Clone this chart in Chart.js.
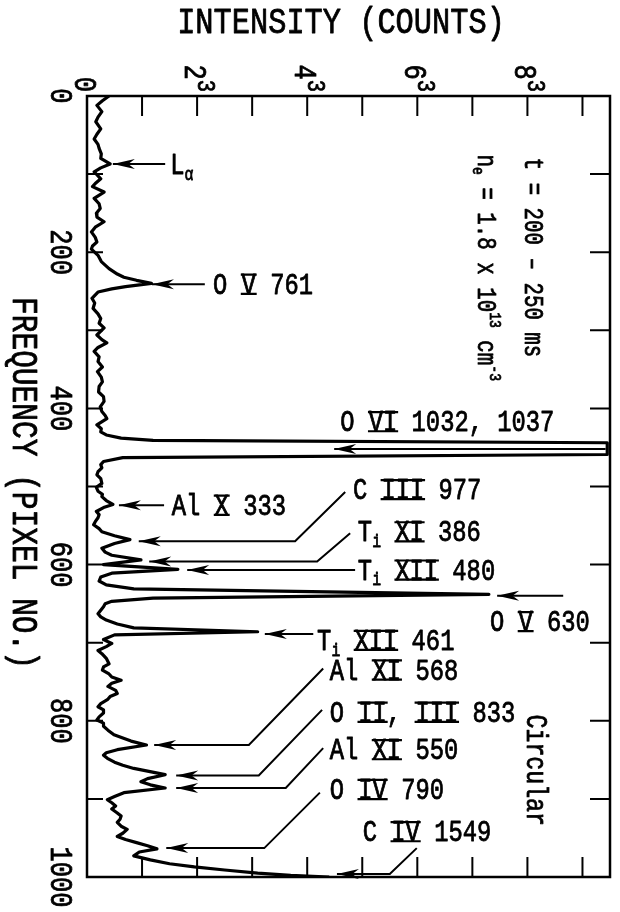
<!DOCTYPE html>
<html>
<head>
<meta charset="utf-8">
<script src="https://cdn.jsdelivr.net/npm/chart.js@4.4.0/dist/chart.umd.min.js"></script>
<style>
  html, body { margin: 0; background: #fff; }
  canvas { display: block; }
</style>
</head>
<body>
<canvas id="spectrum" width="620" height="912"></canvas>
<script>
// spectrum trace: frequency (pixel no.) vs cube root of counts
const pixelNo = [
  0, 6, 12, 20, 27, 33, 42, 49, 55, 62, 67, 74, 80, 87, 92, 97, 106, 112, 116, 123,
  131, 138, 144, 150, 155, 161, 168, 174, 181, 187, 192, 196, 204, 212, 221, 228, 232, 236, 240, 244,
  247, 251, 259, 265, 272, 279, 285, 291, 297, 306, 312, 316, 322, 327, 334, 340, 347, 353, 360, 366,
  372, 379, 385, 391, 398, 404, 409, 413, 421, 426, 430, 434, 438, 441, 444, 459, 463, 468, 472, 476,
  481, 485, 490, 496, 501, 506, 510, 513, 518, 523, 527, 532, 536, 540, 545, 549, 554, 558, 563, 568,
  573, 579, 584, 588, 594, 600, 606, 611, 616, 621, 626, 631, 638, 643, 647, 650, 654, 663, 667, 671,
  676, 681, 686, 690, 696, 701, 705, 710, 714, 720, 727, 731, 735, 740, 744, 748, 752, 756, 761, 765,
  769, 773, 778, 782, 786, 790, 795, 799, 803, 807, 812, 818, 826, 831, 837, 841, 844, 848, 853, 857,
  861, 869, 874, 878, 882, 886, 892, 897, 901, 905, 909, 913, 918, 922, 926, 930, 935, 939, 944, 948,
  952, 956, 960, 964, 968, 973, 978, 983, 987, 991, 995, 998, 1000
];
const cubeRootCounts = [
  0.40, 0.28, 0.18, 0.27, 0.20, 0.16, 0.25, 0.18, 0.13, 0.20, 0.22, 0.26, 0.25, 0.42, 0.25, 0.13, 0.25, 0.15, 0.10, 0.31,
  0.13, 0.22, 0.24, 0.17, 0.18, 0.31, 0.15, 0.08, 0.15, 0.18, 0.10, 0.08, 0.20, 0.26, 0.40, 0.55, 0.67, 0.90, 1.17, 0.70,
  0.45, 0.20, 0.09, 0.14, 0.11, 0.20, 0.25, 0.22, 0.31, 0.18, 0.27, 0.36, 0.20, 0.13, 0.22, 0.20, 0.28, 0.19, 0.26, 0.28,
  0.22, 0.21, 0.30, 0.31, 0.24, 0.27, 0.33, 0.36, 0.18, 0.26, 0.25, 0.35, 0.62, 1.20, 9.45, 9.45, 0.65, 0.30, 0.25, 0.27,
  0.20, 0.18, 0.25, 0.27, 0.17, 0.20, 0.28, 0.27, 0.35, 0.47, 0.30, 0.17, 0.22, 0.20, 0.15, 0.12, 0.22, 0.27, 0.50, 0.78,
  0.50, 0.27, 0.33, 0.45, 0.98, 0.30, 1.65, 0.45, 0.25, 0.22, 0.35, 0.85, 7.30, 1.20, 0.45, 0.33, 0.30, 0.20, 0.25, 0.35,
  0.55, 0.85, 3.10, 0.50, 0.30, 0.45, 0.35, 0.20, 0.27, 0.35, 0.40, 0.30, 0.28, 0.40, 0.45, 0.62, 0.45, 0.38, 0.52, 0.55,
  0.42, 0.37, 0.25, 0.20, 0.30, 0.30, 0.22, 0.18, 0.30, 0.30, 0.38, 0.49, 0.80, 1.08, 0.55, 0.35, 0.30, 0.37, 0.50, 0.65,
  0.85, 1.42, 1.10, 0.98, 1.15, 1.42, 0.67, 0.50, 0.37, 0.45, 0.52, 0.45, 0.55, 0.62, 0.60, 0.55, 0.62, 0.73, 0.65, 0.55,
  0.70, 0.90, 1.10, 1.27, 0.95, 0.85, 1.15, 1.50, 1.95, 2.50, 3.10, 3.70, 4.40
];

// axes
const intensityTicks = [1, 2, 3, 4, 5, 6, 7, 8, 9];
const intensityLabelAt = [0, 2, 4, 6, 8];
const intensityLabels = ['0', '2^{3}', '4^{3}', '6^{3}', '8^{3}'];
const pixelTicks = [100, 200, 300, 400, 500, 600, 700, 800, 900];
const pixelLabelAt = [0, 200, 400, 600, 800, 1000];
const pixelLabels = ['0', '200', '400', '600', '800', '1000'];

// line identifications: [ ] = barred roman numeral, ^{ } / _{ } = super/subscript
const lineNames = [
  'L_{α}', 'O [V] 761', 'O [VI] 1032, 1037', 'Al [X] 333', 'C [III] 977', 'T_{i} [XI] 386', 'T_{i} [XII] 480',
  'O [V] 630', 'T_{i} [XII] 461', 'Al [XI] 568', 'O [II], [III] 833', 'Al [XI] 550', 'O [IV] 790', 'C [IV] 1549'
];
// label anchor and leader path in data units [cube root counts, pixel no.]; last point = arrow tip
const lineNotes = [
  { at: [1.51, 88], path: [[1.42, 87], [0.47, 87]] },
  { at: [2.29, 241], path: [[2.14, 241], [1.18, 241]] },
  { at: [4.60, 417], path: [[9.42, 452], [4.49, 452]] },
  { at: [1.54, 524], path: [[1.40, 524], [0.58, 524]] },
  { at: [4.83, 504], path: [[4.69, 507], [3.78, 570], [0.94, 570]] },
  { at: [4.92, 558], path: [[4.78, 560], [4.18, 596], [1.13, 596]] },
  { at: [4.92, 607], path: [[4.87, 607], [1.82, 607]] },
  { at: [7.32, 673], path: [[8.65, 640], [7.45, 640]] },
  { at: [4.18, 697], path: [[4.11, 689], [3.23, 689]] },
  { at: [4.41, 735], path: [[4.29, 733], [2.94, 831], [1.22, 831]] },
  { at: [4.41, 789], path: [[4.27, 786], [3.12, 870], [1.62, 870]] },
  { at: [4.41, 837], path: [[4.29, 835], [3.61, 886], [1.62, 886]] },
  { at: [4.41, 888], path: [[4.23, 892], [3.22, 963], [1.44, 963]] },
  { at: [5.01, 942], path: [[5.99, 963], [5.50, 996], [4.54, 996]] }
];

const FONT = '"Liberation Mono", "DejaVu Sans Mono", monospace';

function parseRich(s) {
  const runs = [];
  let buf = '';
  const flush = () => { if (buf) runs.push({ t: buf, k: 'n' }); buf = ''; };
  for (let i = 0; i < s.length;) {
    const c = s[i];
    if (c === '[') {
      flush();
      const j = s.indexOf(']', i);
      runs.push({ t: s.slice(i + 1, j), k: 'bar' });
      i = j + 1;
    } else if ((c === '^' || c === '_') && s[i + 1] === '{') {
      flush();
      const j = s.indexOf('}', i);
      runs.push({ t: s.slice(i + 2, j), k: c === '^' ? 'sup' : 'sub' });
      i = j + 1;
    } else {
      buf += c;
      i++;
    }
  }
  flush();
  return runs;
}

// text with its cap centre on (x, y); rot in radians, sx = horizontal squeeze
function drawRich(ctx, s, x, y, o) {
  const size = o.size, sx = o.sx || 0.82, small = o.small || 0.62;
  const runs = parseRich(s);
  ctx.save();
  ctx.translate(x, y);
  if (o.rot) ctx.rotate(o.rot);
  ctx.scale(sx, 1);
  ctx.textAlign = 'left';
  ctx.textBaseline = 'alphabetic';
  ctx.fillStyle = '#000';
  ctx.strokeStyle = '#000';
  ctx.lineJoin = 'round';
  const fontOf = r => (r.k === 'sup' || r.k === 'sub' ? Math.round(size * small) : size) + 'px ' + FONT;
  let total = 0;
  runs.forEach(r => { ctx.font = fontOf(r); r.w = ctx.measureText(r.t).width; total += r.w; });
  let cx = o.align === 'right' ? -total : o.align === 'center' ? -total / 2 : 0;
  const base = size * 0.33;
  runs.forEach(r => {
    ctx.font = fontOf(r);
    let dy = base;
    if (r.k === 'sup') dy = base - size * 0.42;
    if (r.k === 'sub') dy = base + size * 0.2;
    ctx.fillText(r.t, cx, dy);
    ctx.lineWidth = 0.8;           // a little heavier, like stencil lettering
    ctx.strokeText(r.t, cx, dy);
    if (r.k === 'bar') {
      const top = base - size * 0.66;
      ctx.lineWidth = 2.2;
      ctx.beginPath();
      ctx.moveTo(cx - 1, top); ctx.lineTo(cx + r.w + 1, top);
      ctx.moveTo(cx - 1, base); ctx.lineTo(cx + r.w + 1, base);
      ctx.stroke();
    }
    cx += r.w;
  });
  ctx.restore();
}

function drawArrow(ctx, pts) {
  ctx.beginPath();
  ctx.moveTo(pts[0][0], pts[0][1]);
  for (let i = 1; i < pts.length; i++) ctx.lineTo(pts[i][0], pts[i][1]);
  ctx.stroke();
  const [x1, y1] = pts[pts.length - 2];
  const [x2, y2] = pts[pts.length - 1];
  const a = Math.atan2(y2 - y1, x2 - x1), c = Math.cos(a), s = Math.sin(a);
  const L = 22, W = 5;
  ctx.beginPath();
  ctx.moveTo(x2, y2);
  ctx.lineTo(x2 - L * c - W * s, y2 - L * s + W * c);
  ctx.lineTo(x2 - L * 0.7 * c, y2 - L * 0.7 * s);
  ctx.lineTo(x2 - L * c + W * s, y2 - L * s - W * c);
  ctx.closePath();
  ctx.fill();
}

const paperFrame = {
  id: 'paperFrame',
  afterDatasetsDraw(chart) {
    const { ctx, chartArea: a } = chart;
    const sx = chart.scales.x, sy = chart.scales.y;
    const px = u => sx.getPixelForValue(u);
    const py = p => sy.getPixelForValue(p);
    const CW = Math.PI / 2;

    ctx.save();
    ctx.strokeStyle = '#000';
    ctx.fillStyle = '#000';
    ctx.lineCap = 'butt';

    // frame + inward ticks on all four sides
    ctx.lineWidth = 2.5;
    ctx.strokeRect(a.left, a.top, a.right - a.left, a.bottom - a.top);
    ctx.lineWidth = 2;
    ctx.beginPath();
    intensityTicks.forEach(u => {
      ctx.moveTo(px(u), a.top); ctx.lineTo(px(u), a.top + 20);
      ctx.moveTo(px(u), a.bottom); ctx.lineTo(px(u), a.bottom - 20);
    });
    pixelTicks.forEach(p => {
      ctx.moveTo(a.left, py(p)); ctx.lineTo(a.left + 16, py(p));
      ctx.moveTo(a.right, py(p)); ctx.lineTo(a.right - 20, py(p));
    });
    ctx.stroke();

    // tick labels, turned a quarter clockwise like the rest of the original plot
    intensityLabels.forEach((t, i) =>
      drawRich(ctx, t, px(intensityLabelAt[i]) - 2, a.top - 4, { size: 31, rot: CW, align: 'right', small: 0.8 }));
    pixelLabels.forEach((t, i) =>
      drawRich(ctx, t, a.left - 26, py(pixelLabelAt[i]), { size: 31, rot: CW, align: 'center' }));

    // axis titles
    drawRich(ctx, 'INTENSITY (COUNTS)', 341, 21, { size: 37, align: 'center' });
    drawRich(ctx, 'FREQUENCY (PIXEL NO.)', 25, 483, { size: 36, rot: CW, align: 'center' });

    // run conditions
    drawRich(ctx, 't = 200 – 250 ms', px(8.12), py(79), { size: 27, sx: 0.77, rot: CW });
    drawRich(ctx, 'n_{e} = 1.8 x 10^{13} cm^{-3}', px(7.27), py(75), { size: 27, sx: 0.77, rot: CW });
    drawRich(ctx, 'Circular', px(8.16), py(792), { size: 29, sx: 0.8, rot: CW });

    // line identifications with leaders
    ctx.lineWidth = 2;
    lineNotes.forEach((n, i) => {
      drawArrow(ctx, n.path.map(([u, p]) => [px(u), py(p)]));
      drawRich(ctx, lineNames[i], px(n.at[0]), py(n.at[1]), { size: 29 });
    });
    ctx.restore();
  }
};

new Chart(document.getElementById('spectrum').getContext('2d'), {
  type: 'scatter',
  data: {
    datasets: [{
      data: pixelNo.map((p, i) => ({ x: cubeRootCounts[i], y: p })),
      showLine: true,
      borderColor: '#000',
      borderWidth: 3.2,
      borderJoinStyle: 'round',
      pointRadius: 0,
      tension: 0
    }]
  },
  options: {
    responsive: false,
    animation: false,
    devicePixelRatio: 1,
    layout: { padding: { left: 87, top: 96, right: 10, bottom: 35 } },
    plugins: { legend: { display: false }, tooltip: { enabled: false } },
    scales: {
      x: { type: 'linear', min: 0, max: 9.5, display: false },
      y: { type: 'linear', min: 0, max: 1000, reverse: true, display: false }
    }
  },
  plugins: [paperFrame]
});
</script>
</body>
</html>
